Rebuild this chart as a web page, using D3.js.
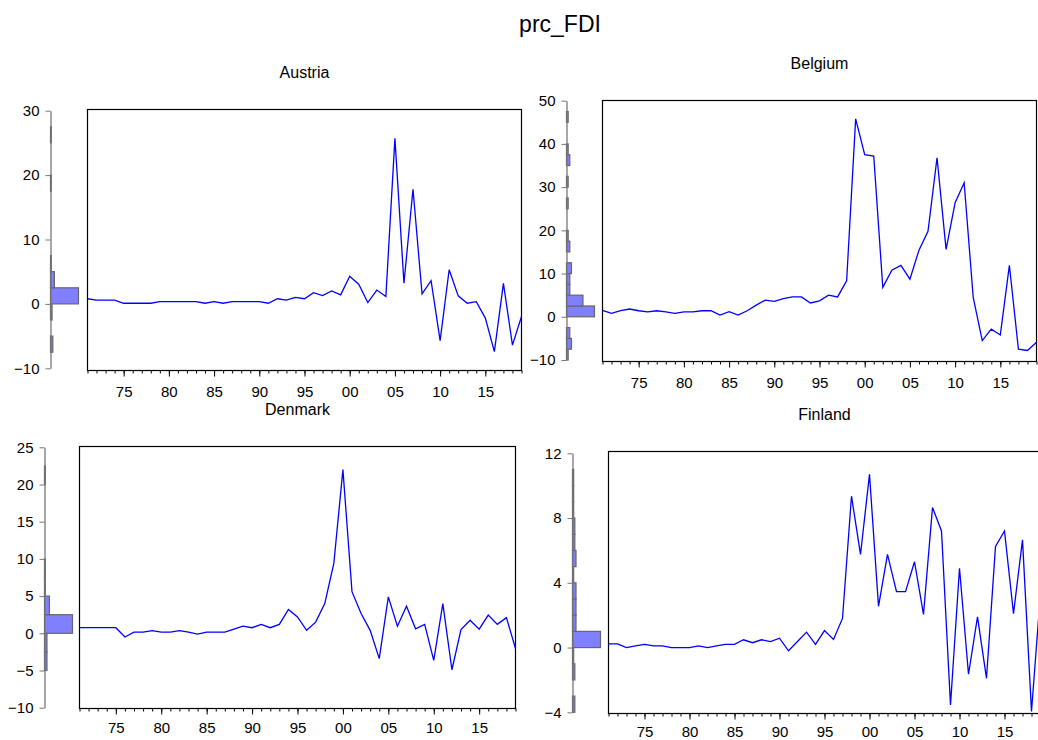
<!DOCTYPE html>
<html>
<head>
<meta charset="utf-8">
<script src="https://cdn.jsdelivr.net/npm/d3@7"></script>
<style>
body { margin: 0; background: #fff; }
svg { display: block; font-family: Arial, "Liberation Sans", sans-serif; }
</style>
</head>
<body>
<svg id="chart" width="1038" height="740"></svg>
<script>
// annual observations 1971-2019
var years = [1971,1972,1973,1974,1975,1976,1977,1978,1979,1980,
             1981,1982,1983,1984,1985,1986,1987,1988,1989,1990,
             1991,1992,1993,1994,1995,1996,1997,1998,1999,2000,
             2001,2002,2003,2004,2005,2006,2007,2008,2009,2010,
             2011,2012,2013,2014,2015,2016,2017,2018,2019];
var labelYears = [1975, 1980, 1985, 1990, 1995, 2000, 2005, 2010, 2015];

var austria = [0.8,0.6,0.6,0.6,0.1,0.1,0.1,0.1,0.35,0.35,
               0.35,0.35,0.35,0.1,0.35,0.1,0.35,0.35,0.35,0.35,
               0.1,0.8,0.6,1.0,0.8,1.75,1.3,2.0,1.4,4.3,
               3.05,0.2,2.15,1.15,25.7,3.2,17.8,1.55,3.6,-5.7,
               5.3,1.25,0.1,0.35,-2.2,-7.4,3.2,-6.4,-1.95];
var belgium = [1.5,0.8,1.4,1.8,1.4,1.15,1.4,1.15,0.8,1.15,
               1.15,1.4,1.4,0.4,1.2,0.4,1.4,2.7,3.85,3.55,
               4.2,4.6,4.6,3.2,3.7,5.0,4.6,8.3,45.8,37.5,
               37.2,6.8,10.8,11.9,8.7,15.4,19.8,36.8,15.6,26.4,
               31.0,4.5,-5.5,-2.85,-4.2,11.9,-7.5,-7.8,-5.9];
var denmark = [0.75,0.75,0.75,0.75,0.75,-0.5,0.15,0.15,0.35,0.15,
               0.15,0.35,0.15,-0.1,0.15,0.15,0.15,0.55,0.95,0.75,
               1.2,0.75,1.2,3.2,2.2,0.4,1.5,4.0,9.4,22.0,
               5.6,2.65,0.4,-3.4,4.9,0.95,3.65,0.6,1.2,-3.65,
               4.0,-4.9,0.5,1.75,0.55,2.45,1.2,2.1,-2.05];
var finland = [0.23,0.23,0.0,0.1,0.2,0.1,0.1,0.0,0.0,0.0,
               0.1,0.0,0.1,0.2,0.2,0.48,0.3,0.48,0.37,0.58,
               -0.2,0.37,0.95,0.2,1.05,0.5,1.8,9.35,5.75,10.7,
               2.55,5.75,3.45,3.45,5.3,2.05,8.65,7.2,-3.55,4.9,
               -1.65,1.9,-1.9,6.25,7.2,2.1,6.65,-3.95,3.4];

var austriaTicks = [-10, 0, 10, 20, 30];
var belgiumTicks = [-10, 0, 10, 20, 30, 40, 50];
var denmarkTicks = [-10, -5, 0, 5, 10, 15, 20, 25];
var finlandTicks = [-4, 0, 4, 8, 12];

var panels = [
    {name: 'Austria', values: austria, ticks: austriaTicks, binWidth: 2.5, labelPad: 10,
     left: 87.5, right: 521.5, top: 109.5, bottom: 370.5, yRange: [368.3, 110.7], axisX: 50.5},
    {name: 'Belgium', values: belgium, ticks: belgiumTicks, binWidth: 2.5, labelPad: 10,
     left: 602.5, right: 1036.5, top: 100.5, bottom: 361.5, yRange: [360, 100.7], axisX: 566.5},
    {name: 'Denmark', values: denmark, ticks: denmarkTicks, binWidth: 2.5, labelPad: 8,
     left: 79.5, right: 515.5, top: 446.5, bottom: 708.5, yRange: [707.7, 447.3], axisX: 44.5},
    {name: 'Finland', values: finland, ticks: finlandTicks, binWidth: 1, labelPad: 7,
     left: 608.5, right: 1040.5, top: 451.5, bottom: 713.5, yRange: [712.3, 453.3], axisX: 572.5}
];

var svg = d3.select('#chart');

svg.append('text')
    .attr('x', 560)
    .attr('y', 32)
    .attr('text-anchor', 'middle')
    .attr('font-size', 23)
    .text('prc_FDI');

panels.forEach(function(p) {
    var g = svg.append('g');
    var lo = d3.min(p.ticks), hi = d3.max(p.ticks);

    var x = d3.scaleLinear().domain([d3.min(years), d3.max(years)]).range([p.left, p.right]);
    var y = d3.scaleLinear().domain([lo, hi]).range(p.yRange);

    // title
    g.append('text')
        .attr('x', (p.left + p.right) / 2)
        .attr('y', p.top - 32)
        .attr('text-anchor', 'middle')
        .attr('font-size', 16)
        .text(p.name);

    // histogram of the series, drawn along the left axis
    var bins = d3.bin()
        .domain([lo, hi])
        .thresholds(d3.range(lo, hi + p.binWidth / 2, p.binWidth))(p.values);
    var w = d3.scaleLinear()
        .domain([0, d3.max(bins, function(b) { return b.length; })])
        .range([0, 28]);

    g.selectAll('.bar')
        .data(bins.filter(function(b) { return b.length > 0; }))
        .enter().append('rect')
        .attr('class', 'bar')
        .attr('x', p.axisX)
        .attr('y', function(b) { return y(b.x1); })
        .attr('width', function(b) { return w(b.length); })
        .attr('height', function(b) { return y(b.x0) - y(b.x1); })
        .attr('fill', '#8080ff')
        .attr('stroke', '#666')
        .attr('stroke-width', 1.2);

    var yAxis = g.append('g')
        .attr('transform', 'translate(' + p.axisX + ',0)')
        .call(d3.axisLeft(y).tickValues(p.ticks).tickSize(5).tickSizeOuter(0).tickPadding(6));
    yAxis.select('.domain').attr('stroke', '#777').attr('stroke-width', 1.3);
    yAxis.selectAll('.tick line').attr('stroke', '#777');
    yAxis.selectAll('text').attr('font-size', 15).attr('font-family', 'Arial, "Liberation Sans", sans-serif').attr('fill', '#000');

    // frame
    g.append('rect')
        .attr('x', p.left)
        .attr('y', p.top)
        .attr('width', p.right - p.left)
        .attr('height', p.bottom - p.top)
        .attr('fill', 'none')
        .attr('stroke', '#000')
        .attr('stroke-width', 1.2);

    // yearly minor ticks
    var minor = g.append('g')
        .attr('transform', 'translate(0,' + p.bottom + ')')
        .call(d3.axisBottom(x).tickValues(years).tickSize(3).tickFormat(''));
    minor.select('.domain').remove();
    minor.selectAll('.tick line').attr('stroke', '#000');

    var major = g.append('g')
        .attr('transform', 'translate(0,' + p.bottom + ')')
        .call(d3.axisBottom(x).tickValues(labelYears).tickSize(6).tickPadding(p.labelPad)
            .tickFormat(function(d) { return String(d % 100).padStart(2, '0'); }));
    major.select('.domain').remove();
    major.selectAll('.tick line').attr('stroke', '#000');
    major.selectAll('text').attr('font-size', 15).attr('font-family', 'Arial, "Liberation Sans", sans-serif').attr('fill', '#000');

    var line = d3.line()
        .x(function(d, i) { return x(years[i]); })
        .y(function(d) { return y(d); });

    g.append('path')
        .datum(p.values)
        .attr('d', line)
        .attr('fill', 'none')
        .attr('stroke', '#0000ff')
        .attr('stroke-width', 1.3);
});
</script>
</body>
</html>
